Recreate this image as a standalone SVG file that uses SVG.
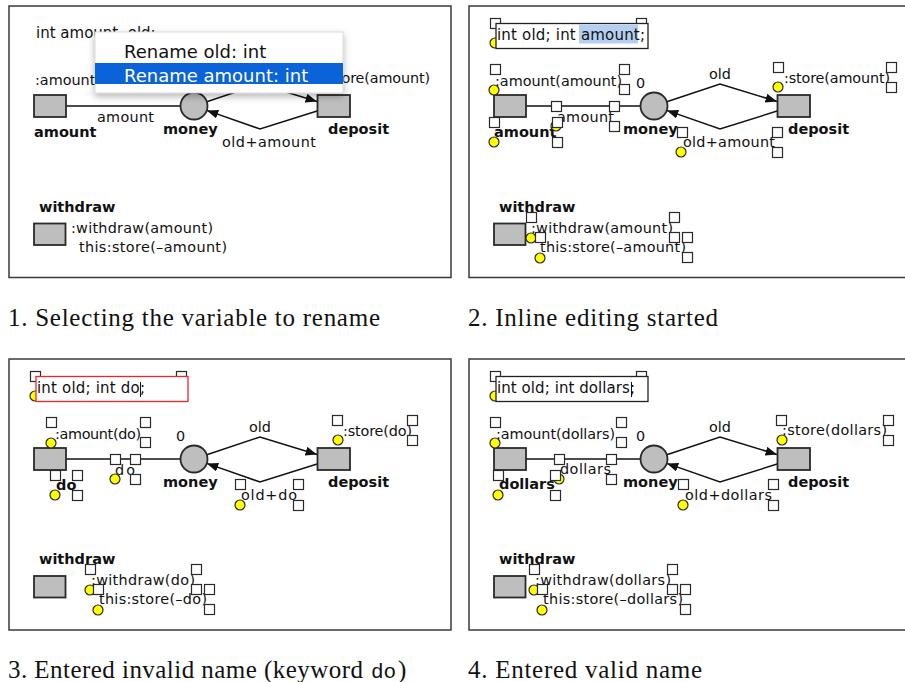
<svg xmlns="http://www.w3.org/2000/svg" width="905" height="682" viewBox="0 0 905 682">
<style>
  .frame{fill:#fff;stroke:#3a3a3a;stroke-width:1.5}
  .arc{fill:none;stroke:#111;stroke-width:1.5}
  .pl{fill:#bebebe;stroke:#2a2a2a;stroke-width:1.8}
  .t{font-family:"DejaVu Sans",sans-serif;font-size:14.4px;fill:#111}
  .b{font-family:"DejaVu Sans",sans-serif;font-size:14.5px;font-weight:bold;fill:#111}
  .dc{font-family:"DejaVu Sans",sans-serif;font-size:15px;fill:#111}
  .mi{font-family:"DejaVu Sans",sans-serif;font-size:18px;fill:#111}
  .h{fill:#fff;stroke:#2a2a2a;stroke-width:1.2}
  .y{fill:#ffff00;stroke:#2a2a2a;stroke-width:1.2}
  .box{fill:#fff;stroke:#222;stroke-width:1.3}
  .cap{font-family:"Liberation Serif",serif;font-size:25px;fill:#111}
  .mono{font-family:"Liberation Mono",monospace;font-size:21px;fill:#111}
</style>
<defs>
  <marker id="arr" markerUnits="userSpaceOnUse" markerWidth="13" markerHeight="10" refX="11.5" refY="4.5" orient="auto">
    <path d="M0,0 L11.5,4.5 L0,9 z" fill="#111"/>
  </marker>
  <filter id="sh" x="-10%" y="-25%" width="120%" height="160%">
    <feDropShadow dx="0" dy="3" stdDeviation="3.5" flood-color="#000" flood-opacity="0.3"/>
  </filter>
</defs>
<rect width="905" height="682" fill="#fff"/>

<!-- Panel 1: context menu over the net -->
<g id="panel1">
  <rect class="frame" x="9" y="6" width="442" height="271.5"/>
  <text class="dc" x="36" y="38">int amount, old;</text>
  <g id="p1-arcs">
    <line class="arc" x1="66" y1="106" x2="180.5" y2="106"/>
    <polyline class="arc" points="206.8,101.7 260,84 317,101.5" marker-end="url(#arr)"/>
    <polyline class="arc" points="319.5,110.3 260,129 206.8,110.4" marker-end="url(#arr)"/>
    <text class="t" x="97" y="122" textLength="57">amount</text>
    <text class="t" x="249" y="79">old</text>
    <text class="t" x="222" y="147" textLength="94">old+amount</text>
  </g>
  <g id="p1-amount">
    <rect class="pl" x="34" y="95" width="32" height="22"/>
    <text class="b" x="34" y="137">amount</text>
    <text class="t" x="35" y="85" textLength="127">:amount(amount)</text>
  </g>
  <g id="p1-money">
    <circle class="pl" cx="194" cy="106" r="13.5"/>
    <text class="b" x="163" y="134">money</text>
    <text class="t" x="176" y="88">0</text>
  </g>
  <g id="p1-deposit">
    <rect class="pl" x="317.5" y="95" width="32.5" height="22"/>
    <text class="b" x="328" y="134">deposit</text>
    <text class="t" x="324" y="83" textLength="106">:store(amount)</text>
  </g>
  <g id="p1-withdraw">
    <rect class="pl" x="34" y="223.5" width="31.5" height="21.5"/>
    <text class="b" x="39" y="212">withdraw</text>
    <text class="t" x="71" y="233" textLength="142">:withdraw(amount)</text>
    <text class="t" x="79" y="252" textLength="148">this:store(–amount)</text>
  </g>
  <g id="p1-menu">
    <rect x="95" y="32" width="248" height="61" fill="#fff" stroke="#d0d0d0" stroke-width="0.8" filter="url(#sh)"/>
    <text class="mi" x="124" y="58">Rename old: int</text>
    <rect x="95" y="63" width="248" height="21" fill="#0a63d8"/>
    <text class="mi" x="124" y="81.5" style="fill:#fff">Rename amount: int</text>
  </g>
</g>

<!-- Panel 2: inline editing, variable selected -->
<g id="panel2" transform="translate(460,0)">
  <rect class="frame" x="9" y="6" width="460" height="271.5"/>
  <g id="p2-decl">
    <rect class="h" x="30.5" y="18.5" width="10" height="10"/>
    <rect class="h" x="176.5" y="18.5" width="10" height="10"/>
    <circle class="y" cx="35" cy="43" r="5"/>
    <rect class="box" x="36" y="23.5" width="152" height="25"/>
    <rect x="119" y="24.5" width="59" height="19" fill="#b4cff2"/>
    <text class="dc" x="37" y="40" textLength="148">int old; int amount;</text>
  </g>
  <g id="p2-arcs">
    <line class="arc" x1="66" y1="106" x2="180.5" y2="106"/>
    <polyline class="arc" points="206.8,101.7 260,84 317,101.5" marker-end="url(#arr)"/>
    <polyline class="arc" points="319.5,110.3 260,129 206.8,110.4" marker-end="url(#arr)"/>
    <text class="t" x="249" y="79">old</text>
    <text class="t" x="97" y="122" textLength="57">amount</text>
    <text class="t" x="223" y="147" textLength="92">old+amount</text>
  </g>
  <g id="p2-amount">
    <rect class="pl" x="34" y="95" width="32" height="22"/>
    <text class="t" x="35" y="86" textLength="127">:amount(amount)</text>
    <text class="b" x="34" y="137">amount</text>
  </g>
  <g id="p2-money">
    <circle class="pl" cx="194" cy="106" r="13.5"/>
    <text class="b" x="163" y="134">money</text>
    <text class="t" x="176" y="88">0</text>
  </g>
  <g id="p2-deposit">
    <rect class="pl" x="317.5" y="95" width="32.5" height="22"/>
    <text class="b" x="328" y="134">deposit</text>
    <text class="t" x="324" y="83" textLength="106">:store(amount)</text>
  </g>
  <g id="p2-withdraw">
    <rect class="pl" x="34" y="223.5" width="31.5" height="21.5"/>
    <text class="b" x="39" y="212">withdraw</text>
    <text class="t" x="71" y="233" textLength="142">:withdraw(amount)</text>
    <text class="t" x="80" y="252" textLength="146">this:store(–amount)</text>
  </g>
  <g id="p2-handles">
    <rect class="h" x="30.5" y="64.5" width="10" height="10"/><rect class="h" x="159.5" y="64.5" width="10" height="10"/><rect class="h" x="159.5" y="84.5" width="10" height="10"/><circle class="y" cx="34" cy="90" r="5"/>
    <rect class="h" x="91.5" y="101.5" width="10" height="10"/><rect class="h" x="149.5" y="101.5" width="10" height="10"/><rect class="h" x="149.5" y="121.5" width="10" height="10"/><circle class="y" cx="96" cy="126" r="5"/>
    <rect class="h" x="29.5" y="117.5" width="10" height="10"/><rect class="h" x="92.5" y="117.5" width="10" height="10"/><rect class="h" x="92.5" y="137.5" width="10" height="10"/><circle class="y" cx="34" cy="142" r="5"/>
    <rect class="h" x="313.5" y="62.5" width="10" height="10"/><rect class="h" x="426.5" y="62.5" width="10" height="10"/><rect class="h" x="426.5" y="82.5" width="10" height="10"/><circle class="y" cx="318" cy="87" r="5"/>
    <rect class="h" x="217.5" y="127.5" width="10" height="10"/><rect class="h" x="312.5" y="127.5" width="10" height="10"/><rect class="h" x="312.5" y="147.5" width="10" height="10"/><circle class="y" cx="221" cy="152" r="5"/>
    <rect class="h" x="66.5" y="212.5" width="10" height="10"/><rect class="h" x="209.5" y="212.5" width="10" height="10"/><rect class="h" x="209.5" y="232.5" width="10" height="10"/><circle class="y" cx="71" cy="238" r="5"/>
    <rect class="h" x="75.5" y="232.5" width="10" height="10"/><rect class="h" x="222.5" y="232.5" width="10" height="10"/><rect class="h" x="222.5" y="252.5" width="10" height="10"/><circle class="y" cx="80" cy="258" r="5"/>
  </g>
</g>

<!-- Panel 3: invalid name typed -->
<g id="panel3" transform="translate(0,353)">
  <rect class="frame" x="9" y="6" width="442" height="271"/>
  <g id="p3-decl">
    <rect class="h" x="30.5" y="18.5" width="10" height="10"/>
    <rect class="h" x="176.5" y="18.5" width="10" height="10"/>
    <circle class="y" cx="35" cy="43" r="5"/>
    <rect class="box" x="36" y="23.5" width="152" height="25" style="stroke:#e8262b"/>
    <text class="dc" x="37" y="40" textLength="108">int old; int do;</text>
    <line x1="140.5" y1="29" x2="140.5" y2="44" stroke="#111" stroke-width="1"/>
  </g>
  <g id="p3-arcs">
    <line class="arc" x1="66" y1="106" x2="180.5" y2="106"/>
    <polyline class="arc" points="206.8,101.7 260,84 317,101.5" marker-end="url(#arr)"/>
    <polyline class="arc" points="319.5,110.3 260,129 206.8,110.4" marker-end="url(#arr)"/>
    <text class="t" x="249" y="79">old</text>
    <text class="t" x="115" y="122" textLength="20">do</text>
    <text class="t" x="241" y="147" textLength="56">old+do</text>
  </g>
  <g id="p3-amount">
    <rect class="pl" x="34" y="95" width="32" height="22"/>
    <text class="t" x="55" y="86" textLength="86">:amount(do)</text>
    <text class="b" x="56" y="137">do</text>
  </g>
  <g id="p3-money">
    <circle class="pl" cx="194" cy="106" r="13.5"/>
    <text class="b" x="163" y="134">money</text>
    <text class="t" x="176" y="88">0</text>
  </g>
  <g id="p3-deposit">
    <rect class="pl" x="317.5" y="95" width="32.5" height="22"/>
    <text class="b" x="328" y="134">deposit</text>
    <text class="t" x="343" y="83" textLength="69">:store(do)</text>
  </g>
  <g id="p3-withdraw">
    <rect class="pl" x="34" y="223" width="31.5" height="21.5"/>
    <text class="b" x="39" y="211">withdraw</text>
    <text class="t" x="91" y="232" textLength="104">:withdraw(do)</text>
    <text class="t" x="99" y="251" textLength="108">this:store(–do)</text>
  </g>
  <g id="p3-handles">
    <rect class="h" x="46.5" y="64.5" width="10" height="10"/><rect class="h" x="140.5" y="64.5" width="10" height="10"/><rect class="h" x="140.5" y="84.5" width="10" height="10"/><circle class="y" cx="51" cy="90" r="5"/>
    <rect class="h" x="110.5" y="101.5" width="10" height="10"/><rect class="h" x="130.5" y="101.5" width="10" height="10"/><rect class="h" x="130.5" y="121.5" width="10" height="10"/><circle class="y" cx="115" cy="126" r="5"/>
    <rect class="h" x="50.5" y="117.5" width="10" height="10"/><rect class="h" x="72.5" y="117.5" width="10" height="10"/><rect class="h" x="72.5" y="137.5" width="10" height="10"/><circle class="y" cx="55" cy="142" r="5"/>
    <rect class="h" x="332.5" y="62.5" width="10" height="10"/><rect class="h" x="407.5" y="62.5" width="10" height="10"/><rect class="h" x="407.5" y="82.5" width="10" height="10"/><circle class="y" cx="338" cy="87" r="5"/>
    <rect class="h" x="235.5" y="126.5" width="10" height="10"/><rect class="h" x="293.5" y="126.5" width="10" height="10"/><rect class="h" x="293.5" y="147.5" width="10" height="10"/><circle class="y" cx="240" cy="152" r="5"/>
    <rect class="h" x="85.5" y="211.5" width="10" height="10"/><rect class="h" x="191.5" y="211.5" width="10" height="10"/><rect class="h" x="191.5" y="231.5" width="10" height="10"/><circle class="y" cx="90" cy="237" r="5"/>
    <rect class="h" x="93.5" y="231.5" width="10" height="10"/><rect class="h" x="204.5" y="231.5" width="10" height="10"/><rect class="h" x="204.5" y="251.5" width="10" height="10"/><circle class="y" cx="98" cy="257" r="5"/>
  </g>
</g>

<!-- Panel 4: valid name typed -->
<g id="panel4" transform="translate(460,353)">
  <rect class="frame" x="9" y="6" width="460" height="271"/>
  <g id="p4-decl">
    <rect class="h" x="30.5" y="18.5" width="10" height="10"/>
    <rect class="h" x="176.5" y="18.5" width="10" height="10"/>
    <circle class="y" cx="35" cy="43" r="5"/>
    <rect class="box" x="36" y="23.5" width="152" height="25"/>
    <text class="dc" x="37" y="40" textLength="138">int old; int dollars;</text>
    <line x1="171.5" y1="29" x2="171.5" y2="44" stroke="#111" stroke-width="1"/>
  </g>
  <g id="p4-arcs">
    <line class="arc" x1="66" y1="106" x2="180.5" y2="106"/>
    <polyline class="arc" points="206.8,101.7 260,84 317,101.5" marker-end="url(#arr)"/>
    <polyline class="arc" points="319.5,110.3 260,129 206.8,110.4" marker-end="url(#arr)"/>
    <text class="t" x="249" y="79">old</text>
    <text class="t" x="100" y="121" textLength="51">dollars</text>
    <text class="t" x="225" y="147" textLength="87">old+dollars</text>
  </g>
  <g id="p4-amount">
    <rect class="pl" x="34" y="95" width="32" height="22"/>
    <text class="t" x="36" y="86" textLength="119">:amount(dollars)</text>
    <text class="b" x="39" y="136">dollars</text>
  </g>
  <g id="p4-money">
    <circle class="pl" cx="194" cy="106" r="13.5"/>
    <text class="b" x="163" y="134">money</text>
    <text class="t" x="176" y="88">0</text>
  </g>
  <g id="p4-deposit">
    <rect class="pl" x="317.5" y="95" width="32.5" height="22"/>
    <text class="b" x="328" y="134">deposit</text>
    <text class="t" x="322" y="82" textLength="105">:store(dollars)</text>
  </g>
  <g id="p4-withdraw">
    <rect class="pl" x="34" y="223" width="31.5" height="21.5"/>
    <text class="b" x="39" y="211">withdraw</text>
    <text class="t" x="75" y="232" textLength="136">:withdraw(dollars)</text>
    <text class="t" x="83" y="251" textLength="140">this:store(–dollars)</text>
  </g>
  <g id="p4-handles">
    <rect class="h" x="30.5" y="64.5" width="10" height="10"/><rect class="h" x="156.5" y="64.5" width="10" height="10"/><rect class="h" x="156.5" y="84.5" width="10" height="10"/><circle class="y" cx="35" cy="90" r="5"/>
    <rect class="h" x="94.5" y="101.5" width="10" height="10"/><rect class="h" x="146.5" y="101.5" width="10" height="10"/><rect class="h" x="146.5" y="121.5" width="10" height="10"/><circle class="y" cx="99" cy="126" r="5"/>
    <rect class="h" x="33.5" y="117.5" width="10" height="10"/><rect class="h" x="90.5" y="117.5" width="10" height="10"/><rect class="h" x="90.5" y="137.5" width="10" height="10"/><circle class="y" cx="38" cy="142" r="5"/>
    <rect class="h" x="316.5" y="62.5" width="10" height="10"/><rect class="h" x="423.5" y="62.5" width="10" height="10"/><rect class="h" x="423.5" y="82.5" width="10" height="10"/><circle class="y" cx="322" cy="87" r="5"/>
    <rect class="h" x="218.5" y="126.5" width="10" height="10"/><rect class="h" x="308.5" y="126.5" width="10" height="10"/><rect class="h" x="308.5" y="147.5" width="10" height="10"/><circle class="y" cx="223" cy="152" r="5"/>
    <rect class="h" x="69.5" y="211.5" width="10" height="10"/><rect class="h" x="207.5" y="211.5" width="10" height="10"/><rect class="h" x="207.5" y="231.5" width="10" height="10"/><circle class="y" cx="74" cy="237" r="5"/>
    <rect class="h" x="77.5" y="231.5" width="10" height="10"/><rect class="h" x="220.5" y="231.5" width="10" height="10"/><rect class="h" x="220.5" y="251.5" width="10" height="10"/><circle class="y" cx="82" cy="257" r="5"/>
  </g>
</g>

<!-- Captions -->
<g id="captions">
  <text class="cap" x="8" y="326" textLength="372">1. Selecting the variable to rename</text>
  <text class="cap" x="468" y="326" textLength="250">2. Inline editing started</text>
  <text class="cap" x="8" y="678" textLength="355">3. Entered invalid name (keyword</text>
  <text class="mono" x="371" y="678">do</text>
  <text class="cap" x="398" y="678">)</text>
  <text class="cap" x="468" y="678" textLength="234">4. Entered valid name</text>
</g>
</svg>
